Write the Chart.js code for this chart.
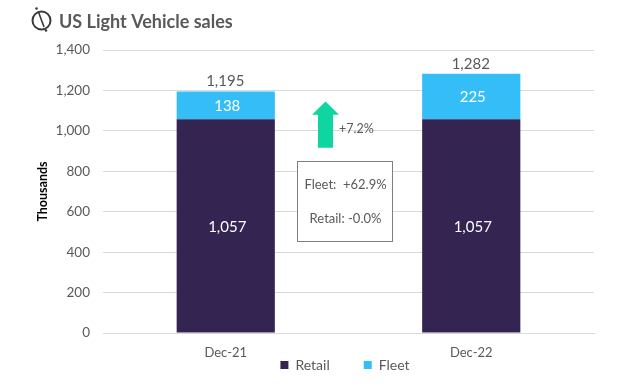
<!DOCTYPE html>
<html>
<head>
<meta charset="utf-8">
<style>
  html, body { margin: 0; padding: 0; background: #fff; }
  canvas { display: block; }
</style>
<script src="https://cdn.jsdelivr.net/npm/chart.js@4"></script>
</head>
<body>
<canvas id="salesChart" width="641" height="386"></canvas>
<script>
const categories = ['Dec-21', 'Dec-22'];
const retail = [1057, 1057];
const fleet = [138, 225];
const totals = [1195, 1282];
const yTicks = [0, 200, 400, 600, 800, 1000, 1200, 1400];

const FONT = 'Lato, "Open Sans", sans-serif';
const GREY = '#595959';

function fmt(n) {
    return n.toLocaleString('en-US');
}

/* =========================
   LEGEND PLACEMENT
   (sits right under the tick labels, off-centre)
========================= */
const legendSpot = {
    id: 'legendSpot',
    beforeInit(chart) {
        const legend = chart.legend;
        const fit = legend.fit;
        legend.fit = function () {
            fit.call(this);
            this.height = 0;
        };
    },
    afterLayout(chart) {
        const legend = chart.legend;
        legend.top = 324;
        legend.bottom = 386;
        legend.left += 30.5;
        legend.right += 30.5;
    }
};

/* =========================
   BAR LABELS
========================= */
const barLabels = {
    id: 'barLabels',
    afterDatasetsDraw(chart) {
        const ctx = chart.ctx;
        const low = chart.getDatasetMeta(0).data;
        const high = chart.getDatasetMeta(1).data;
        ctx.save();
        ctx.textAlign = 'center';
        ctx.textBaseline = 'middle';
        ctx.font = '15px ' + FONT;
        ctx.fillStyle = '#fff';
        low.forEach((bar, i) => {
            ctx.fillText(fmt(retail[i]), bar.x + 1.5, (bar.y + bar.base) / 2 + 1);
        });
        high.forEach((bar, i) => {
            ctx.fillStyle = '#fff';
            ctx.fillText(fmt(fleet[i]), bar.x + 1.5, (bar.y + bar.base) / 2 + 1);
            ctx.fillStyle = GREY;
            ctx.fillText(fmt(totals[i]), bar.x - 0.5, bar.y - 10);
        });
        ctx.restore();
    }
};

/* =========================
   TITLE, ICON, ARROW, BOX
========================= */
const notes = {
    id: 'notes',
    afterDraw(chart) {
        const ctx = chart.ctx;
        const y = chart.scales.y;
        ctx.save();

        // logo
        ctx.strokeStyle = '#3a3a3a';
        ctx.fillStyle = '#3a3a3a';
        ctx.lineWidth = 2;
        ctx.beginPath();
        ctx.arc(41.5, 20.5, 9, 0, Math.PI * 2);
        ctx.stroke();
        ctx.lineWidth = 1.6;
        ctx.beginPath();
        ctx.moveTo(38.5, 12);
        ctx.lineTo(44, 27);
        ctx.stroke();
        [[36.5, 8.5], [46, 30.5]].forEach(p => {
            ctx.beginPath();
            ctx.arc(p[0], p[1], 1.3, 0, Math.PI * 2);
            ctx.fill();
        });

        // title
        ctx.fillStyle = '#58595b';
        ctx.font = 'bold 18px ' + FONT;
        ctx.textAlign = 'left';
        ctx.textBaseline = 'middle';
        ctx.fillText('US Light Vehicle sales', 59, 22);

        // growth arrow
        const top = y.getPixelForValue(1145);
        const neck = y.getPixelForValue(1080);
        const bottom = y.getPixelForValue(917);
        ctx.fillStyle = '#0fd6a0';
        ctx.beginPath();
        ctx.moveTo(325.5, top);
        ctx.lineTo(339, neck);
        ctx.lineTo(333, neck);
        ctx.lineTo(333, bottom);
        ctx.lineTo(318, bottom);
        ctx.lineTo(318, neck);
        ctx.lineTo(312, neck);
        ctx.closePath();
        ctx.fill();

        ctx.fillStyle = GREY;
        ctx.font = '12.5px ' + FONT;
        ctx.fillText('+7.2%', 339, 128.5);

        // change box
        ctx.fillStyle = '#fff';
        ctx.strokeStyle = '#7f7f7f';
        ctx.lineWidth = 1;
        ctx.fillRect(297.5, 161.5, 95, 80);
        ctx.strokeRect(297.5, 161.5, 95, 80);
        ctx.fillStyle = GREY;
        ctx.font = '13px ' + FONT;
        ctx.textAlign = 'center';
        ctx.fillText('Fleet:  +62.9%', 345.5, 185);
        ctx.fillText('Retail: -0.0%', 345.5, 219);
        ctx.restore();
    }
};

/* =========================
   US LIGHT VEHICLE SALES
========================= */
new Chart(document.getElementById('salesChart'), {
    type: 'bar',
    data: {
        labels: categories,
        datasets: [
            { label: 'Retail', data: retail, backgroundColor: '#342452' },
            { label: 'Fleet', data: fleet, backgroundColor: '#35bdf8' }
        ]
    },
    options: {
        responsive: false,
        animation: false,
        layout: { padding: { left: 35, right: 47, top: 50, bottom: 23 } },
        datasets: { bar: { categoryPercentage: 1, barPercentage: 0.4 } },
        scales: {
            x: {
                stacked: true,
                grid: { display: false },
                border: { color: '#d9d9d9' },
                afterFit(axis) {
                    axis.height = 30;
                },
                ticks: { color: GREY, font: { family: FONT, size: 13 }, padding: 4 }
            },
            y: {
                stacked: true,
                min: 0,
                max: 1400,
                afterBuildTicks(axis) {
                    axis.ticks = yTicks.map(v => ({ value: v }));
                },
                afterFit(axis) {
                    axis.width = 68;
                },
                grid: { color: '#d9d9d9', drawTicks: false },
                border: { display: false },
                ticks: {
                    color: GREY,
                    padding: 13,
                    font: { family: FONT, size: 13.5 },
                    callback: v => fmt(v)
                },
                title: {
                    display: true,
                    text: 'Thousands',
                    color: '#000',
                    font: { family: FONT, size: 12.5, weight: 'bold' },
                    padding: 0
                }
            }
        },
        plugins: {
            title: { display: false },
            tooltip: { enabled: false },
            legend: {
                position: 'bottom',
                labels: {
                    color: GREY,
                    font: { family: FONT, size: 14 },
                    boxWidth: 8,
                    boxHeight: 8,
                    padding: 34
                }
            }
        }
    },
    plugins: [legendSpot, barLabels, notes]
});
</script>
</body>
</html>
